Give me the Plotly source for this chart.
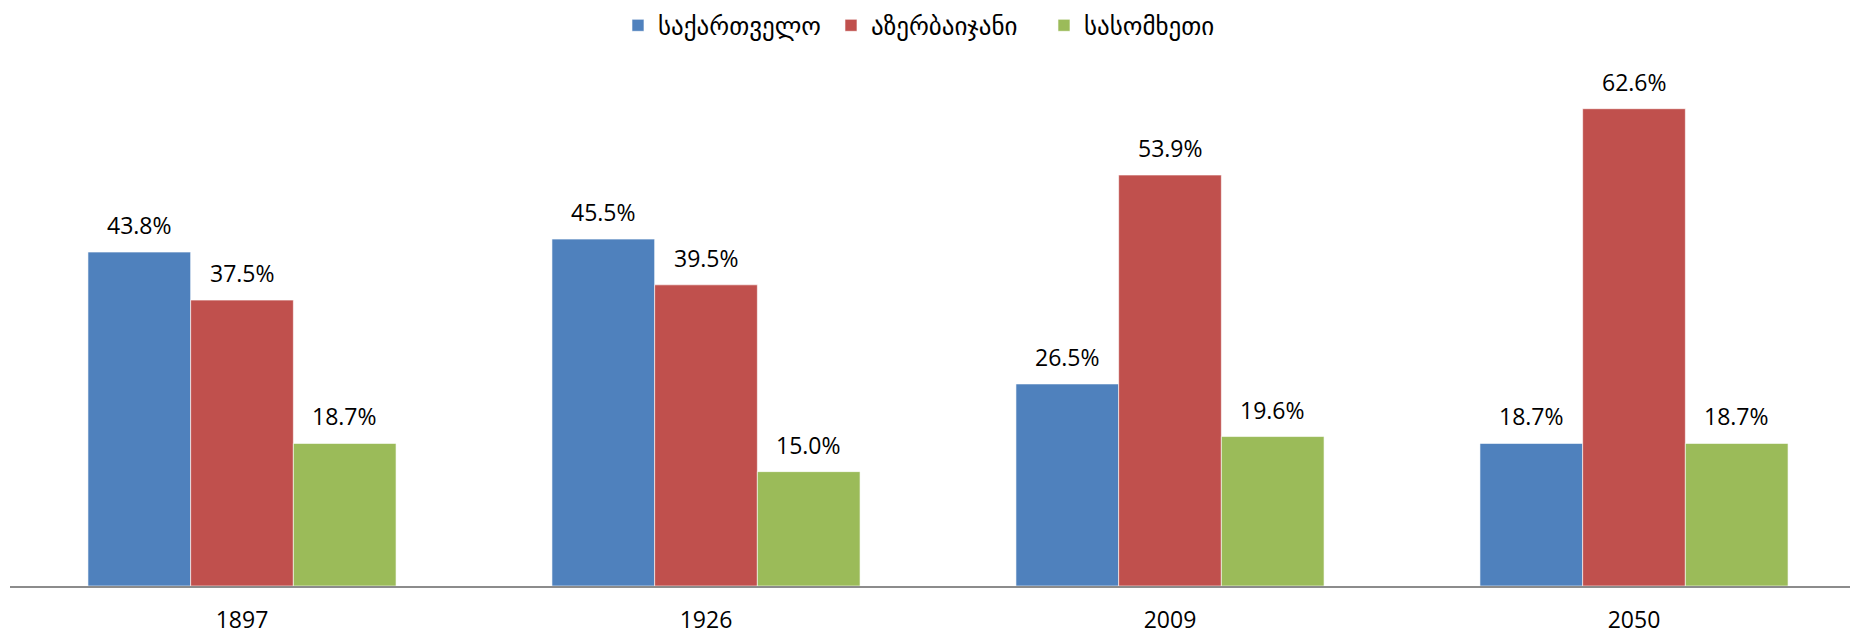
import plotly.graph_objects as go

years = ["1897", "1926", "2009", "2050"]
series_names = ["საქართველო", "აზერბაიჯანი", "სასომხეთი"]
georgia = [43.8, 45.5, 26.5, 18.7]
azerbaijan = [37.5, 39.5, 53.9, 62.6]
armenia = [18.7, 15.0, 19.6, 18.7]
colors = ["#4F81BD", "#C0504D", "#9BBB59"]

FONT = "Open Sans, DejaVu Sans, sans-serif"
BARGAP = 0.336
all_series = [georgia, azerbaijan, armenia]
n_series = len(all_series)
bar_w = (1 - BARGAP) / n_series

fig = go.Figure()
annotations = []
for si, (name, vals, col) in enumerate(zip(series_names, all_series, colors)):
    fig.add_trace(go.Bar(
        x=years, y=vals, name=name,
        marker=dict(color=col, line=dict(color="rgba(255,255,255,0.6)", width=1)),
        hoverinfo="x+y+name",
    ))
    off = (si - (n_series - 1) / 2) * bar_w
    for ci, v in enumerate(vals):
        annotations.append(dict(
            x=ci + off, y=v, xref="x", yref="y",
            text=f"{v:.1f}%", showarrow=False,
            yanchor="middle", yshift=27,
            font=dict(size=23, color="#000000", family=FONT),
        ))

fig.update_layout(
    width=1850, height=627,
    margin=dict(l=2, r=0, t=42, b=47),
    barmode="group",
    bargap=BARGAP,
    bargroupgap=0,
    plot_bgcolor="white",
    paper_bgcolor="white",
    font=dict(family=FONT, size=23, color="#000000"),
    legend=dict(orientation="h", x=0.329, xanchor="left", y=0.972, yanchor="middle",
                yref="container", font=dict(size=25), itemwidth=30,
                entrywidth=168, entrywidthmode="pixels",
                traceorder="normal"),
    xaxis=dict(showline=True, linecolor="#8c8c8c", linewidth=2, ticks="",
               tickfont=dict(size=23), showgrid=False,
               range=[-0.5, -0.5 + 1848 / 464], ticklabelstandoff=12),
    yaxis=dict(range=[0, 70.3], visible=False, showgrid=False, zeroline=False),
    annotations=annotations,
)

fig.write_html("out.html")
